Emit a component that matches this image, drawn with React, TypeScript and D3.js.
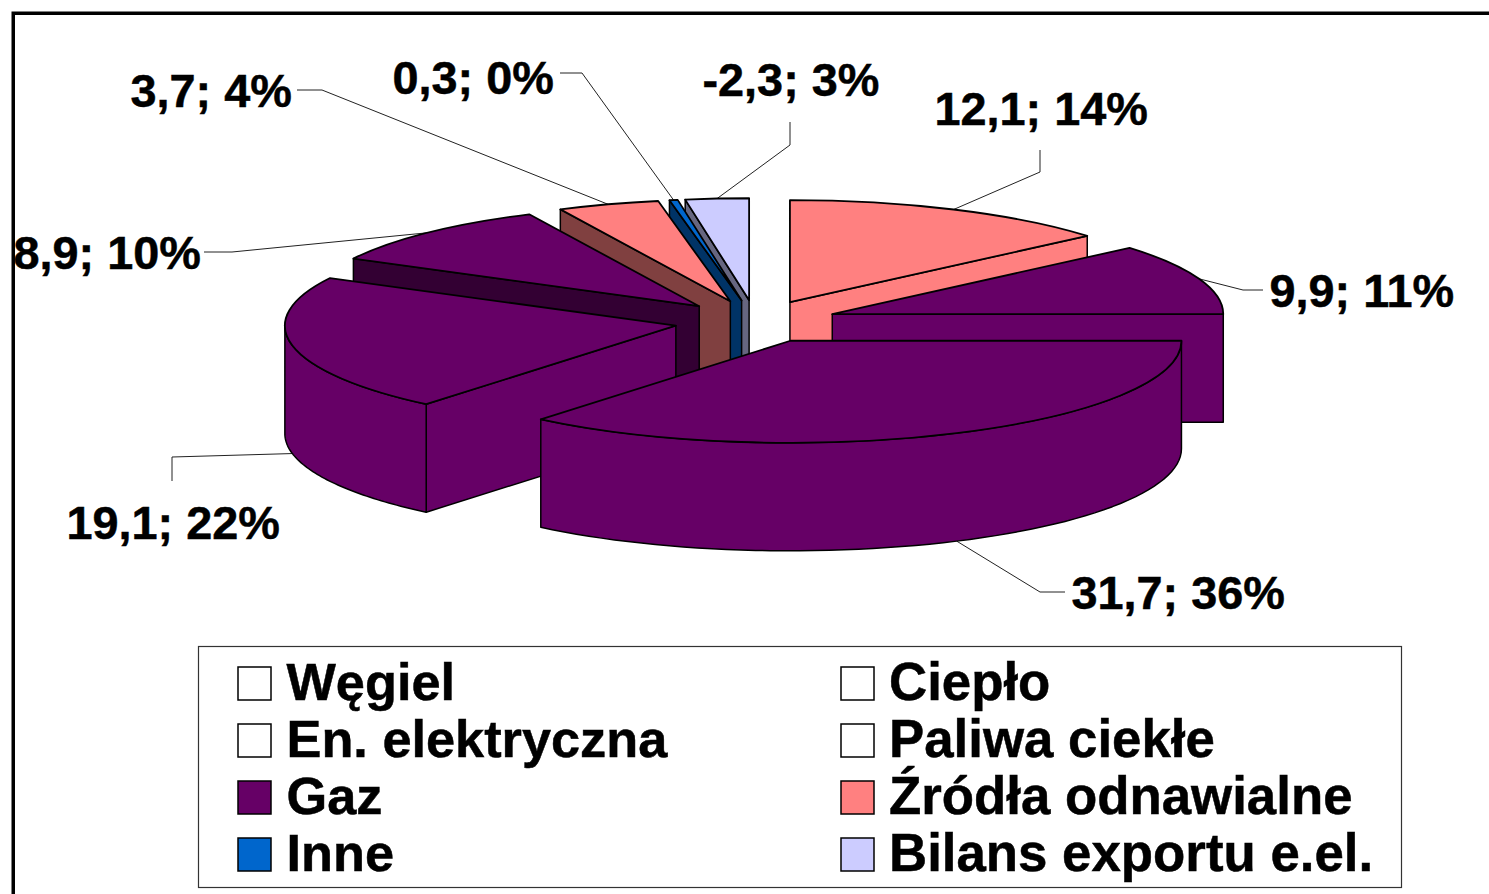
import React from 'react';
import * as d3 from 'd3';

// values as printed on the slices, clockwise from 12 o'clock
const sliceValues = [12.1, 9.9, 31.7, 19.1, 8.9, 3.7, 0.3, -2.3];
const slicePercents = [14, 11, 36, 22, 10, 4, 0, 3];
const sliceColors = ['#FF8080', '#660066', '#660066', '#660066', '#660066', '#FF8080', '#0066CC', '#CCCCFF'];

const legendNames = [
  'Węgiel', 'Ciepło',
  'En. elektryczna', 'Paliwa ciekłe',
  'Gaz', 'Źródła odnawialne',
  'Inne', 'Bilans exportu e.el.',
];
const legendColors = ['#FFFFFF', '#FFFFFF', '#FFFFFF', '#FFFFFF', '#660066', '#FF8080', '#0066CC', '#CCCCFF'];

// label placement: text start x, baseline y, elbow of the leader, where the leader stops at the text
const labelX = [934.5, 1269.5, 1071.5, 66.5, 13.5, 130.5, 392.5, 702.5];
const labelY = [125, 307, 609, 539, 269, 107, 94, 96];
const elbows = [[1040, 172], [1243, 290], [1040, 592], [172, 457], [232, 252], [322, 90], [582, 73], [790, 145]];
const leaderEnds = [[1040, 150], [1263, 290], [1065, 592], [172, 481], [204, 252], [297, 90], [560, 73], [790, 122]];

const W = 1489;
const H = 894;
const cx = 755.8;
const cy = 321.5;
const rx = 391;
const tilt = 0.261;
const depth = 108;
const explode = 81.5;
const ry = rx * tilt;
const fontFamily = '"Liberation Sans", Arial, sans-serif';

const pie = d3.pie<number>().value((d) => Math.abs(d)).sort(null);
const arcShape = d3.arc<d3.PieArcDatum<number>>().innerRadius(0).outerRadius(rx);
const poly = d3.line();

type Pt = [number, number];

function half(color: string) {
  const c = d3.rgb(color);
  return d3.rgb(c.r / 2, c.g / 2, c.b / 2).formatHex();
}

function App() {
  const arcs = pie(sliceValues);

  const slices = arcs.map((a, i) => {
    const mid = (a.startAngle + a.endAngle) / 2;
    const ax = cx + explode * Math.sin(mid);
    const ay = cy - explode * tilt * Math.cos(mid);
    const rim = (t: number): Pt => [ax + rx * Math.sin(t), ay - ry * Math.cos(t)];
    const down = (p: Pt): Pt => [p[0], p[1] + depth];
    const apex: Pt = [ax, ay];
    const color = sliceColors[i];
    const walls: { d: string; fill: string }[] = [];

    // radial walls, only when they face the viewer
    if (Math.sin(a.startAngle) < 0) {
      const p = rim(a.startAngle);
      // back-left walls sit in the shade, front ones keep the slice colour
      const fill = a.startAngle > Math.PI * 1.5 ? half(color) : color;
      walls.push({ d: poly([apex, p, down(p), down(apex)])! + 'Z', fill });
    }
    if (Math.sin(a.endAngle) > 0) {
      const p = rim(a.endAngle);
      walls.push({ d: poly([apex, p, down(p), down(apex)])! + 'Z', fill: color });
    }

    // outer rim, front half only
    const from = Math.max(a.startAngle, Math.PI / 2);
    const to = Math.min(a.endAngle, Math.PI * 1.5);
    if (to > from) {
      const ts = d3.range(0, 61).map((k) => from + ((to - from) * k) / 60);
      const upper = ts.map(rim);
      const lower = upper.map(down).reverse();
      walls.push({ d: poly([...upper, ...lower])! + 'Z', fill: color });
    }

    const anchor = rim(mid);
    const leaderStart = Math.cos(mid) < -0.1 ? down(anchor) : anchor;

    return {
      key: i,
      ax,
      ay,
      color,
      walls,
      mid,
      top: arcShape(a)!,
      leader: poly([leaderStart, elbows[i] as Pt, leaderEnds[i] as Pt])!,
    };
  });

  // painter's order: back of the pie first
  const ordered = [...slices].sort((p, q) => d3.descending(Math.cos(p.mid), Math.cos(q.mid)));

  const rows = d3.range(4);
  const rowBase = d3.scalePoint<number>().domain(rows).range([700, 871]);
  const colSwatch = [238, 841];
  const colText = [286.5, 889];
  const colFont = [52.3, 52.8];

  return (
    <svg
      width={W}
      height={H}
      viewBox={`0 0 ${W} ${H}`}
      style={{ position: 'absolute', left: 0, top: 0, display: 'block', background: '#fff' }}
    >
      <path d={`M13.25,${H}V13.25H${W}`} fill="none" stroke="#000" strokeWidth={3.5} />

      {slices.map((s) => (
        <path key={s.key} d={s.leader} fill="none" stroke="#222" strokeWidth={1} />
      ))}

      {ordered.map((s) => (
        <g key={s.key}>
          {s.walls.map((w, j) => (
            <path key={j} d={w.d} fill={w.fill} stroke="#000" strokeWidth={1.5} strokeLinejoin="round" />
          ))}
          <path
            d={s.top}
            transform={`translate(${s.ax},${s.ay}) scale(1,${tilt})`}
            fill={s.color}
            stroke="#000"
            strokeWidth={1.8}
            vectorEffect="non-scaling-stroke"
            strokeLinejoin="round"
          />
        </g>
      ))}

      {sliceValues.map((v, i) => (
        <text
          key={i}
          x={labelX[i]}
          y={labelY[i]}
          fontFamily={fontFamily}
          fontWeight="bold"
          fontSize={46.8}
          fill="#000"
          stroke="#000"
          strokeWidth={0.5}
        >
          {`${String(v).replace('.', ',')}; ${slicePercents[i]}%`}
        </text>
      ))}

      <rect x={198.5} y={646.5} width={1203} height={241} fill="#fff" stroke="#333" strokeWidth={1.2} />
      {legendNames.map((name, i) => {
        const col = i % 2;
        const base = rowBase(Math.floor(i / 2))!;
        return (
          <g key={name}>
            <rect
              x={colSwatch[col]}
              y={base - 33}
              width={33}
              height={33}
              fill={legendColors[i]}
              stroke="#000"
              strokeWidth={1.5}
            />
            <text
              x={colText[col]}
              y={base}
              fontFamily={fontFamily}
              fontWeight="bold"
              fontSize={colFont[col]}
              fill="#000"
              stroke="#000"
              strokeWidth={0.5}
            >
              {name}
            </text>
          </g>
        );
      })}
    </svg>
  );
}

export default App;
